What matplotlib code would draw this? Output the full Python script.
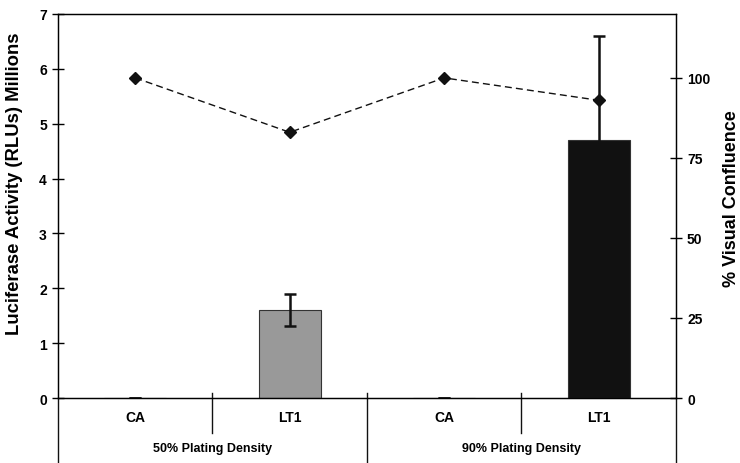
import matplotlib
matplotlib.use("Agg")
import matplotlib.pyplot as plt
import matplotlib.transforms as mtransforms

plt.rcParams['font.family'] = ['Liberation Sans', 'DejaVu Sans']
plt.rcParams['font.weight'] = 'bold'

# data
categories = ["CA", "LT1", "CA", "LT1"]
groups = ["50% Plating Density", "90% Plating Density"]
luciferase = [0.0, 1.61, 0.0, 4.71]
luciferase_err = [0.0, 0.29, 0.0, 1.88]
confluence = [100, 83, 100, 93]
bar_colors = ["#999999", "#999999", "#111111", "#111111"]

W, H = 740, 464
fig = plt.figure(figsize=(W / 100, H / 100), dpi=100)
ax = fig.add_axes([0.0784, 0.140, 0.835, 0.828])
x = list(range(len(categories)))

ax.bar(x, luciferase, width=0.4, color=bar_colors, edgecolor="#333333",
       linewidth=0.8, zorder=2)
ax.errorbar(x, luciferase, yerr=luciferase_err, fmt="none", ecolor="#111111",
            elinewidth=1.8, capsize=4.5, capthick=1.8, zorder=3)

ax.set_xlim(-0.5, 3.5)
ax.set_ylim(0, 7)
ax.set_yticks(range(0, 8))
ax.set_xticks([])
ax.tick_params(axis="y", direction="inout", length=8, width=1, labelsize=10, pad=4)
for s in ["left", "right", "top", "bottom"]:
    ax.spines[s].set_color("#111111")
    ax.spines[s].set_linewidth(1)

ax2 = ax.twinx()
ax2.plot(x, confluence, linestyle=(0, (5, 3)), color="#111111", linewidth=1,
         marker="D", markersize=6, zorder=4)
ax2.set_ylim(0, 120)
ax2.set_yticks([0, 25, 50, 75, 100])
ax2.tick_params(axis="y", direction="inout", length=8, width=1, labelsize=10, pad=4)

# axis titles, placed like the original (a bit above centre)
fig.text(15 / W, 1 - 184 / H, "Luciferase Activity (RLUs) Millions", rotation=90,
         ha="center", va="center", fontsize=13.3, fontweight="bold")
fig.text(732 / W, 1 - 199 / H, "% Visual Confluence", rotation=90,
         ha="center", va="center", fontsize=13, fontweight="bold")

# category table below the axis
trans = mtransforms.blended_transform_factory(ax.transData, ax.transAxes)
for xi, lab in zip(x, categories):
    ax.text(xi, -0.05, lab, transform=trans, ha="center", va="center",
            fontsize=10, fontweight="bold")
for gi, lab in enumerate(groups):
    ax.text(gi * 2 + 0.5, -0.13, lab, transform=trans, ha="center", va="center",
            fontsize=9, fontweight="bold")
for xb in [0.5, 2.5]:
    ax.plot([xb, xb], [0.013, -0.091], transform=trans, color="#111111",
            linewidth=1, clip_on=False)
ax.plot([1.5, 1.5], [0.013, -0.17], transform=trans, color="#111111",
        linewidth=1, clip_on=False)
for xb in [-0.5, 3.5]:
    ax.plot([xb, xb], [0, -0.17], transform=trans, color="#111111",
            linewidth=1, clip_on=False)

fig.savefig("out.png", dpi=100)
